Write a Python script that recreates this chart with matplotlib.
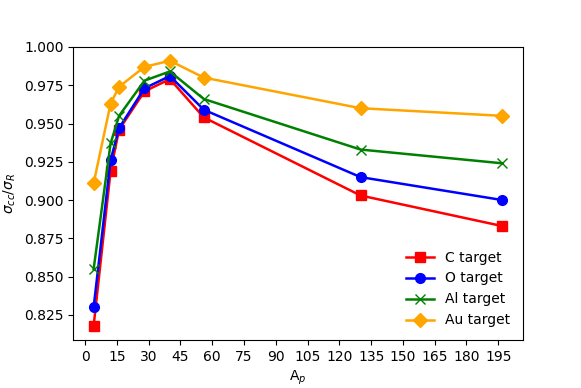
import matplotlib
matplotlib.use('Agg')
import matplotlib.pyplot as plt
from matplotlib.ticker import MultipleLocator

# projectile mass numbers
A_p = [4, 12, 16, 28, 40, 56, 130, 197]

# sigma_cc / sigma_R for each target
c_target = [0.818, 0.919, 0.946, 0.971, 0.979, 0.954, 0.903, 0.883]
o_target = [0.830, 0.926, 0.947, 0.973, 0.981, 0.959, 0.915, 0.900]
al_target = [0.855, 0.937, 0.955, 0.978, 0.984, 0.966, 0.933, 0.924]
au_target = [0.911, 0.963, 0.974, 0.987, 0.991, 0.980, 0.960, 0.955]

fig, ax = plt.subplots(figsize=(5.81, 3.88), dpi=100)
fig.subplots_adjust(left=0.126, right=0.9, top=0.879, bottom=0.124)

ax.plot(A_p, c_target, color='red', marker='s', markersize=7, lw=1.8, label='C target')
ax.plot(A_p, o_target, color='blue', marker='o', markersize=7, lw=1.8, label='O target')
ax.plot(A_p, al_target, color='green', marker='x', markersize=7, lw=1.8, label='Al target')
ax.plot(A_p, au_target, color='orange', marker='D', markersize=7, lw=1.8, label='Au target')

ax.xaxis.set_major_locator(MultipleLocator(15))
ax.set_ylim(0.8087, 1.0)
ax.set_xlabel(r'A$_p$')
ax.set_ylabel(r'$\sigma_{cc}/\sigma_R$')
ax.legend(loc='lower right', frameon=False)

plt.savefig('out.png', dpi=100)
